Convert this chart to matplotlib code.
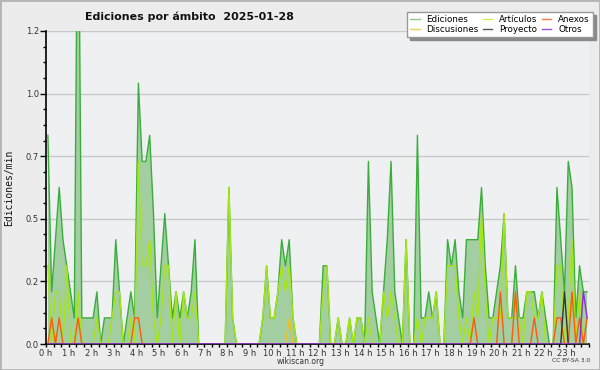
import matplotlib
matplotlib.use('Agg')
import matplotlib.pyplot as plt
import numpy as np
from matplotlib.lines import Line2D
from matplotlib.patches import Rectangle
from matplotlib.ticker import MultipleLocator, FuncFormatter

hours = list(range(24))
hour_labels = [f"{h} h" for h in hours]
y_grid = [0.0, 0.24, 0.48, 0.72, 0.96, 1.2]

# edits per minute, 10-minute bins (144)
ediciones = [
    0.8, 0.2, 0.4, 0.6, 0.4, 0.3,
    0.2, 0.1, 2.0, 0.1, 0.1, 0.1,
    0.1, 0.2, 0.0, 0.1, 0.1, 0.1,
    0.4, 0.2, 0.0, 0.1, 0.2, 0.1,
    1.0, 0.7, 0.7, 0.8, 0.5, 0.1,
    0.3, 0.5, 0.3, 0.1, 0.2, 0.1,
    0.2, 0.1, 0.2, 0.4, 0.0, 0.0,
    0.0, 0.0, 0.0, 0.0, 0.0, 0.0,
    0.6, 0.1, 0.0, 0.0, 0.0, 0.0,
    0.0, 0.0, 0.0, 0.1, 0.3, 0.1,
    0.1, 0.2, 0.4, 0.3, 0.4, 0.1,
    0.0, 0.0, 0.0, 0.0, 0.0, 0.0,
    0.0, 0.3, 0.3, 0.0, 0.0, 0.1,
    0.0, 0.0, 0.1, 0.0, 0.1, 0.1,
    0.0, 0.7, 0.2, 0.1, 0.0, 0.2,
    0.4, 0.7, 0.2, 0.1, 0.0, 0.4,
    0.0, 0.0, 0.8, 0.1, 0.1, 0.2,
    0.1, 0.2, 0.0, 0.0, 0.4, 0.3,
    0.4, 0.2, 0.1, 0.4, 0.4, 0.4,
    0.4, 0.6, 0.3, 0.1, 0.1, 0.2,
    0.3, 0.5, 0.1, 0.1, 0.3, 0.1,
    0.1, 0.2, 0.2, 0.2, 0.1, 0.2,
    0.1, 0.0, 0.0, 0.6, 0.4, 0.2,
    0.7, 0.6, 0.1, 0.3, 0.2, 0.2,
]
articulos = [
    0.3, 0.0, 0.2, 0.2, 0.0, 0.3,
    0.0, 0.0, 0.2, 0.0, 0.0, 0.0,
    0.0, 0.1, 0.0, 0.0, 0.0, 0.1,
    0.2, 0.2, 0.0, 0.0, 0.1, 0.0,
    0.7, 0.3, 0.3, 0.4, 0.1, 0.0,
    0.1, 0.3, 0.3, 0.0, 0.2, 0.0,
    0.2, 0.1, 0.1, 0.2, 0.0, 0.0,
    0.0, 0.0, 0.0, 0.0, 0.0, 0.0,
    0.6, 0.1, 0.0, 0.0, 0.0, 0.0,
    0.0, 0.0, 0.0, 0.1, 0.3, 0.1,
    0.1, 0.2, 0.3, 0.2, 0.3, 0.1,
    0.0, 0.0, 0.0, 0.0, 0.0, 0.0,
    0.0, 0.2, 0.3, 0.0, 0.0, 0.1,
    0.0, 0.0, 0.1, 0.0, 0.1, 0.1,
    0.0, 0.1, 0.0, 0.0, 0.0, 0.2,
    0.1, 0.2, 0.1, 0.0, 0.0, 0.4,
    0.0, 0.0, 0.1, 0.0, 0.1, 0.1,
    0.1, 0.2, 0.0, 0.0, 0.3, 0.3,
    0.3, 0.1, 0.0, 0.1, 0.0, 0.2,
    0.1, 0.5, 0.2, 0.0, 0.1, 0.1,
    0.1, 0.5, 0.1, 0.1, 0.1, 0.1,
    0.0, 0.2, 0.2, 0.1, 0.1, 0.2,
    0.0, 0.0, 0.0, 0.3, 0.3, 0.0,
    0.1, 0.4, 0.0, 0.2, 0.0, 0.0,
]
anexos = [0.0] * 144
for i, v in [(1, 0.1), (3, 0.1), (8, 0.1), (23, 0.1), (24, 0.1), (113, 0.1),
             (120, 0.2), (124, 0.2), (129, 0.1), (135, 0.1), (136, 0.1),
             (139, 0.2), (141, 0.1), (143, 0.1)]:
    anexos[i] = v
discusiones = [0.0] * 144
discusiones[64] = 0.1
proyecto = [0.0] * 144
proyecto[137] = 0.2
otros = [0.0] * 144
otros[142] = 0.2
otros[143] = 0.1

x = (np.arange(len(ediciones)) + 0.5) / 6.0

W, H = 600, 370
fig = plt.figure(figsize=(6, 3.7), dpi=100, facecolor='#ececec')
ax = fig.add_axes([46 / W, 1 - 344 / H, 543 / W, 313 / H])
ax.set_facecolor('#eff0f2')
ax.set_xlim(0, 24)
ax.set_ylim(0, 1.2)

ax.fill_between(x, ediciones, color='#a2cea2', lw=0, zorder=2)
ax.plot(x, ediciones, color='#3aae3a', lw=1.0, zorder=3)
ax.plot(x, articulos, color='#a6e612', lw=1.0, zorder=4)
ax.plot(x, anexos, color='#ff5a0a', lw=1.0, zorder=5)
ax.plot(x, discusiones, color='#f0c020', lw=1.0, zorder=5)
ax.plot(x, proyecto, color='#333333', lw=1.0, zorder=6)
ax.plot(x, otros, color='#8a2be2', lw=1.0, zorder=7)

ax.set_yticks(y_grid)
ax.yaxis.set_major_formatter(FuncFormatter(lambda v, p: f"{v:.1f}"))
ax.yaxis.set_minor_locator(MultipleLocator(0.06))
ax.set_xticks(hours)
ax.set_xticklabels(hour_labels)
ax.xaxis.set_minor_locator(MultipleLocator(1 / 3))
ax.yaxis.grid(True, color='#c8c8c8', lw=1)
ax.set_axisbelow(True)

ax.tick_params(axis='y', which='major', direction='out', length=4, width=1,
               labelsize=6, labelcolor='#333333', pad=1)
ax.tick_params(axis='y', which='minor', direction='out', length=2.5, width=1)
ax.tick_params(axis='x', which='both', direction='out', length=2.5, width=1,
               labelsize=6, labelcolor='#333333', pad=1)
for s in ('top', 'right'):
    ax.spines[s].set_visible(False)
for s in ('left', 'bottom'):
    ax.spines[s].set_color('black')
    ax.spines[s].set_linewidth(1.2)

fig.text(85 / W, 1 - 17 / H, 'Ediciones por ámbito  2025-01-28',
         fontweight='bold', fontsize=7.9, va='center', ha='left', color='#111111')
fig.text(9 / W, 1 - 188 / H, 'Ediciones/min', rotation=90,
         family='DejaVu Sans Mono', fontsize=7, va='center', ha='center', color='#111111')
fig.text(301 / W, 1 - 361 / H, 'wikiscan.org', fontsize=5.5,
         ha='center', va='center', color='#333333')
fig.text(590 / W, 1 - 361 / H, 'CC BY-SA 3.0', fontsize=4.3,
         ha='right', va='center', color='#333333')

handles = [
    Line2D([], [], color='#88cc88', lw=1),
    Line2D([], [], color='#f0d050', lw=1),
    Line2D([], [], color='#c8f050', lw=1),
    Line2D([], [], color='#555555', lw=1),
    Line2D([], [], color='#ff7a45', lw=1),
    Line2D([], [], color='#9a50f0', lw=1),
]
labels = ['Ediciones', 'Discusiones', 'Artículos', 'Proyecto', 'Anexos', 'Otros']
leg = fig.legend(handles, labels, ncol=3, loc='upper right',
                 bbox_to_anchor=(593 / W, 1 - 12 / H), bbox_transform=fig.transFigure,
                 borderaxespad=0, fontsize=6.3, handlelength=1.1, handletextpad=0.8,
                 columnspacing=0.45, borderpad=0.35, labelspacing=0.1,
                 frameon=True, fancybox=False, edgecolor='#999999',
                 facecolor='white', framealpha=1,
                 shadow={'color': '#8a8a8a', 'alpha': 1})

fig.patches.append(Rectangle((0, 0), 1, 1, transform=fig.transFigure, fill=False,
                             edgecolor='#b4b4b4', lw=2))

fig.savefig('out.png', dpi=100, facecolor=fig.get_facecolor())
